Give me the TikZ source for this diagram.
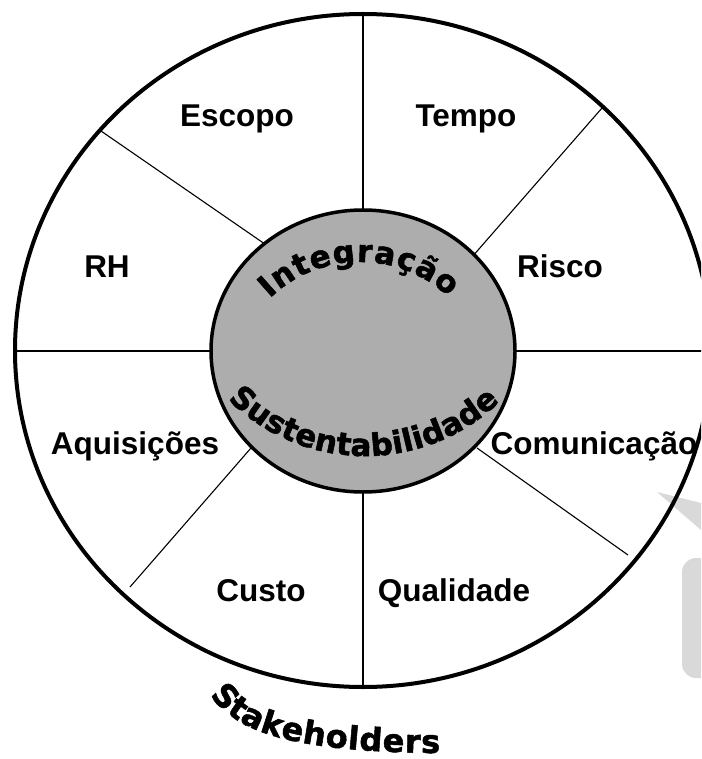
\documentclass[tikz,border=0pt]{standalone}
\usepackage{fontspec}
\setmainfont{Liberation Sans}
\newfontfamily\wafont{DejaVu Sans}[BoldFeatures={FakeBold=1.6}]
\usetikzlibrary{decorations.text}
\definecolor{innergray}{RGB}{173,173,173}
\definecolor{calloutgray}{RGB}{217,217,217}
\newcommand\wafontI{\wafont\bfseries\fontsize{31}{32}\selectfont}
\newcommand\wafontS{\wafont\bfseries\fontsize{31}{32}\selectfont}
\newcommand\wafontK{\wafont\bfseries\fontsize{32}{34}\selectfont}
\begin{document}
\begin{tikzpicture}[x=1pt,y=1pt,
  spoke/.style={line width=1.1pt, draw=black},
  rim/.style={line width=4pt, draw=black},
  hub/.style={line width=3.5pt, draw=black, fill=innergray},
  callout/.style={fill=calloutgray},
  lbl/.style={font=\bfseries\fontsize{31.5}{32}\selectfont, anchor=base, inner sep=0pt}]
\useasboundingbox (0,0) rectangle (701,-759);
\clip (0,0) rectangle (701,-759);
\fill[white] (0,0) rectangle (701,-759);
% faint callout behind
\fill[callout] (657,-492) -- (701,-503) -- (701,-530) -- cycle;
\fill[callout, rounded corners=14pt] (682,-558) rectangle (730,-678);
% outer ring
\coordinate (O) at (363,-350.5);
\draw[rim] (O) ellipse [x radius=348, y radius=336.5];
% spoke end points
\coordinate (s1a) at (363,-14);   \coordinate (s1b) at (363,-230);
\coordinate (s2a) at (101,-131);  \coordinate (s2b) at (275,-251);
\coordinate (s3a) at (15,-351);   \coordinate (s3b) at (230,-351);
\coordinate (s4a) at (602,-108);  \coordinate (s4b) at (465,-265);
\coordinate (s5a) at (515,-351);  \coordinate (s5b) at (705,-351);
\coordinate (s6a) at (251,-448);  \coordinate (s6b) at (130,-587);
\coordinate (s7a) at (477,-448);  \coordinate (s7b) at (628,-555);
\coordinate (s8a) at (363,-480);  \coordinate (s8b) at (363,-687);
\foreach \s in {1,...,8} { \draw[spoke] (s\s a) -- (s\s b); }
% hub
\coordinate (H) at (363,-351);
\draw[hub] (H) ellipse [x radius=152, y radius=141];
% labels
\node[lbl] (escopo) at (237,-127) {Escopo};
\node[lbl] (tempo) at (466,-127) {Tempo};
\node[lbl] (rh) at (107,-277) {RH};
\node[lbl] (risco) at (560,-277) {Risco};
\node[lbl] (aquis) at (135,-454) {Aquisições};
\node[lbl] (comun) at (594,-454) {Comunicação};
\node[lbl] (custo) at (261,-601) {Custo};
\node[lbl] (qual) at (454,-601) {Qualidade};
% curved texts
\path[decorate, decoration={text along path, text={|\wafontI|Integração}, text align={fit to path}}]
  (269.7,-298.5) arc[start angle=134, end angle=47, radius=130];
\path[decorate, decoration={text along path, text={|\wafontS|Sustentabilidade}, text align={fit to path}}]
  (227.8,-399.2) arc[start angle=225, end angle=314, radius=194];
\path[decorate, decoration={text along path, text={|\wafontK|Stakeholders}, text align={fit to path}}]
  (210,-695) .. controls (234,-728) and (280,-752) .. (440,-753);
\end{tikzpicture}
\end{document}
